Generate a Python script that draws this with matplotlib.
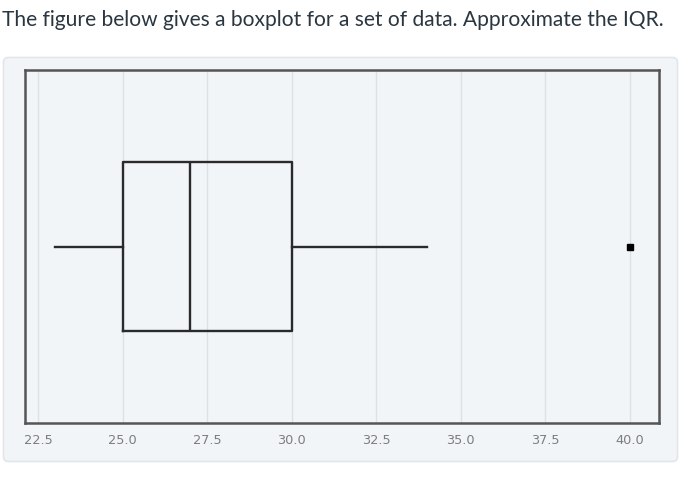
import matplotlib as mtl
mtl.use('Agg')
import matplotlib.pyplot as plt
import matplotlib.transforms as mtransforms
from matplotlib.patches import FancyBboxPatch

### DATA ###
title = 'The figure below gives a boxplot for a set of data. Approximate the IQR.'
tick_values = [22.5, 25.0, 27.5, 30.0, 32.5, 35.0, 37.5, 40.0]
tick_labels = ['22.5', '25.0', '27.5', '30.0', '32.5', '35.0', '37.5', '40.0']
whisker_low = 23.0
q1 = 25.0
median = 27.0
q3 = 30.0
whisker_high = 34.0
outliers = [40.0]

### PLOT ###
fig = plt.figure(figsize=(6.94, 5.0), dpi=100)
fig.patch.set_facecolor('white')

# light card behind the chart (pixel coords)
card = FancyBboxPatch((3.5, 38.5), 674, 404,
                      boxstyle='round,pad=0,rounding_size=5',
                      transform=mtransforms.IdentityTransform(),
                      facecolor='#f2f5f8', edgecolor='#e2e6ea', linewidth=1.2,
                      zorder=-5)
fig.patches.append(card)

fig.text(2 / 694, 1 - 20 / 500, title, family=['Lato', 'DejaVu Sans'],
         fontsize=15.1, color='#2a3640', ha='left', va='center')

ax = fig.add_axes([25 / 694, 1 - 423 / 500, (659 - 25) / 694, (423 - 70) / 500])
ax.set_zorder(2)
ax.set_facecolor('#f2f5f8')

stats = [{'med': median, 'q1': q1, 'q3': q3,
          'whislo': whisker_low, 'whishi': whisker_high,
          'fliers': outliers}]
ax.bxp(stats, positions=[1], widths=0.476, vert=False, showcaps=False,
       boxprops=dict(color='#2a2a2a', linewidth=1.7),
       medianprops=dict(color='#2a2a2a', linewidth=1.7),
       whiskerprops=dict(color='#2a2a2a', linewidth=1.7),
       flierprops=dict(marker='s', markersize=4, markerfacecolor='black',
                       markeredgecolor='black'),
       zorder=3)

ax.set_xlim(22.116, 40.857)
ax.set_ylim(0.5, 1.5)
ax.set_xticks(tick_values)
ax.set_xticklabels(tick_labels, family='DejaVu Sans',
                   fontsize=9.3, color='#7d7d7d')
ax.set_yticks([])
ax.tick_params(axis='x', length=0, pad=8)
ax.grid(axis='x', color='#dde1e5', linewidth=1.0, zorder=0)
ax.set_axisbelow(True)
for s in ax.spines.values():
    s.set_color('#555555')
    s.set_linewidth(1.8)

plt.savefig('out.png', dpi=100)
